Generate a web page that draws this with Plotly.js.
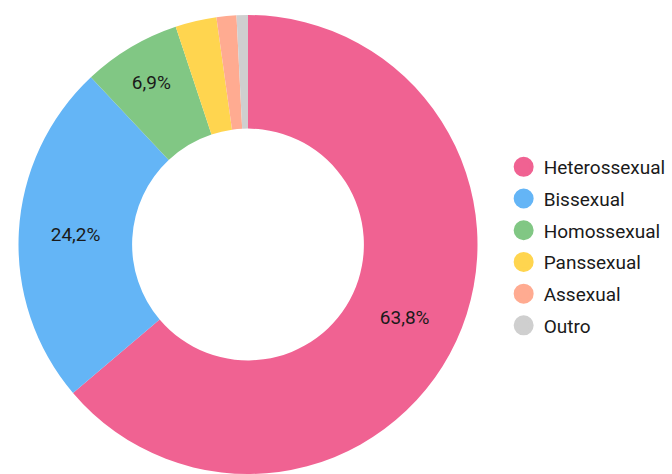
<!DOCTYPE html>
<html>
<head>
<meta charset="utf-8">
<script src="https://cdn.plot.ly/plotly-3.0.1.min.js"></script>
<style>html,body{margin:0;padding:0;background:#fff;}#chart{width:672px;height:474px;}</style>
</head>
<body>
<div id="chart"></div>
<script>
const categories = ['Heterossexual', 'Bissexual', 'Homossexual', 'Panssexual', 'Assexual', 'Outro'];
const values = [63.8, 24.2, 6.9, 2.9, 1.4, 0.8];
const colors = ['#F06292', '#64B5F6', '#81C784', '#FFD54F', '#FFAB91', '#CFCFCF'];

const sliceText = values.map(v => v >= 5 ? v.toFixed(1).replace('.', ',') + '%' : '');

const pie = {
  type: 'pie',
  labels: categories,
  values: values,
  text: sliceText,
  textinfo: 'text',
  textposition: 'inside',
  insidetextorientation: 'horizontal',
  textfont: {family: 'Roboto', size: 19, color: '#1a1a1a'},
  hole: 0.505,
  sort: false,
  direction: 'clockwise',
  rotation: 0,
  marker: {colors: colors, line: {width: 0}},
  showlegend: false,
  hoverinfo: 'label+percent',
  domain: {x: [18 / 672, 478 / 672], y: [0, 459 / 474]}
};

const legendTraces = categories.map((c, i) => ({
  type: 'scatter',
  mode: 'markers',
  x: [null],
  y: [null],
  name: c,
  legendgroup: 'g' + i,
  marker: {color: colors[i], size: 16, symbol: 'circle', line: {color: colors[i], width: 4}},
  showlegend: true,
  hoverinfo: 'skip'
}));

const layout = {
  width: 672,
  height: 474,
  margin: {l: 0, r: 0, t: 0, b: 0},
  paper_bgcolor: '#ffffff',
  plot_bgcolor: '#ffffff',
  xaxis: {visible: false},
  yaxis: {visible: false},
  showlegend: true,
  legend: {
    x: 0.7495, xanchor: 'left',
    y: 0.48, yanchor: 'middle',
    font: {family: 'Roboto', size: 19, color: '#1a1a1a'},
    tracegroupgap: 4,
    itemclick: false, itemdoubleclick: false
  }
};

Plotly.newPlot('chart', [pie].concat(legendTraces), layout, {displayModeBar: false, staticPlot: true});
</script>
</body>
</html>
